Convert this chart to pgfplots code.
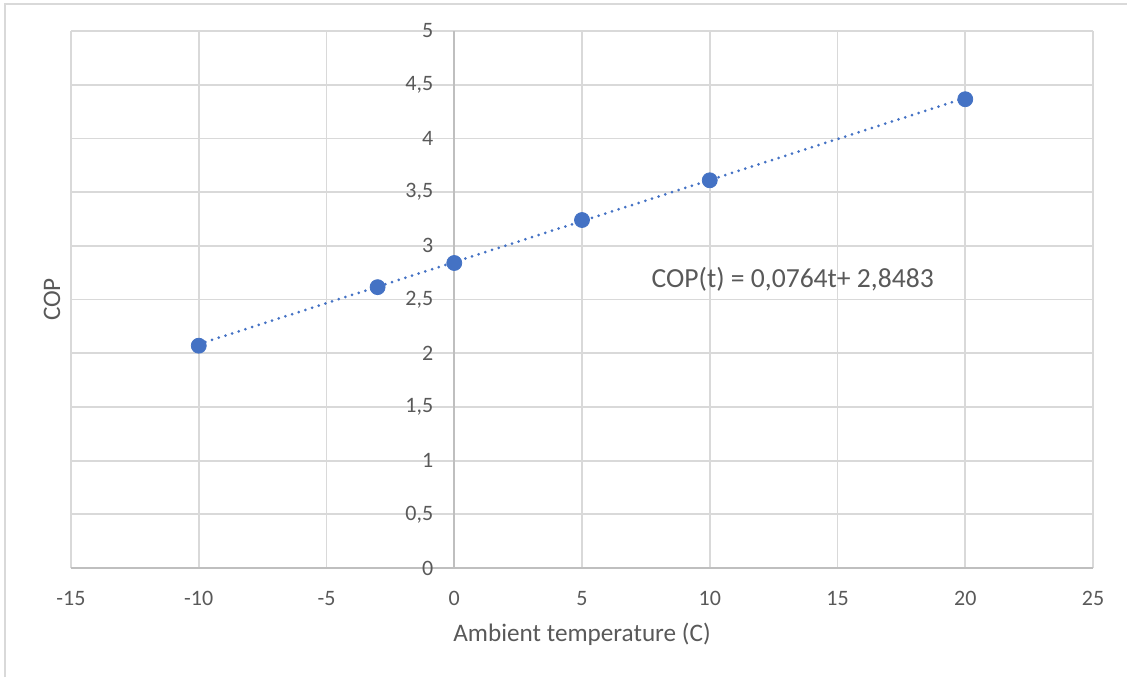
\documentclass[border=0pt]{standalone}
\usepackage{fontspec}
\setmainfont{Carlito}
\usepackage{pgfplots}
\pgfplotsset{compat=1.18}
\definecolor{txt}{HTML}{595959}
\definecolor{gridc}{HTML}{D9D9D9}
\definecolor{axc}{HTML}{BFBFBF}
\definecolor{blu}{HTML}{4472C4}
\begin{document}
\begin{tikzpicture}
\useasboundingbox (0,0) rectangle (563.5pt,338.5pt);
\draw[gridc, line width=1pt] (2.5pt,0) -- (2.5pt,336.5pt) -- (563.5pt,336.5pt);
\begin{axis}[
  at={(35.5pt,54.5pt)}, anchor=south west,
  scale only axis, width=511pt, height=268.5pt,
  xmin=-15, xmax=25, ymin=0, ymax=5,
  axis x line=bottom, axis y line=center,
  hide obscured x ticks=false, hide obscured y ticks=false,
  axis line style={-, draw=axc, line width=1pt},
  xtick={-15,-10,-5,0,5,10,15,20,25},
  ytick={0,0.5,1,1.5,2,2.5,3,3.5,4,4.5,5},
  major tick length=0pt,
  grid=major, grid style={gridc, line width=0.9pt},
  /pgf/number format/assume math mode=true,
  /pgf/number format/use comma,
  tick label style={font=\fontsize{11}{13}\selectfont, text=txt},
  yticklabel style={anchor=east, xshift=-7pt},
  xticklabel style={anchor=north, yshift=-8pt},
  xlabel={Ambient temperature (C)},
  ylabel={COP},
  label style={font=\fontsize{12.6}{15}\selectfont, text=txt},
  xlabel style={at={([yshift=-36.5pt]axis description cs:0.5,0)}, anchor=base},
  ylabel style={at={([xshift=-9.5pt]axis description cs:0,0.5)}, anchor=center, rotate=90},
  clip=false,
]
\addplot[blu, line width=1.5pt, line cap=round, dash pattern=on 0pt off 3.5pt]
  coordinates {(-10,2.0843) (20,4.3763)};
\addplot[only marks, mark=*, mark size=3.75pt, mark options={fill=blu, draw=blu}]
  coordinates {(-10,2.07) (-3,2.615) (0,2.84) (5,3.24) (10,3.61) (20,4.365)};
\node[anchor=west, text=txt, font=\fontsize{13.8}{16}\selectfont] at (axis cs:7.45,2.69) {COP(t) = 0,0764t+ 2,8483};
\end{axis}
\end{tikzpicture}
\end{document}
